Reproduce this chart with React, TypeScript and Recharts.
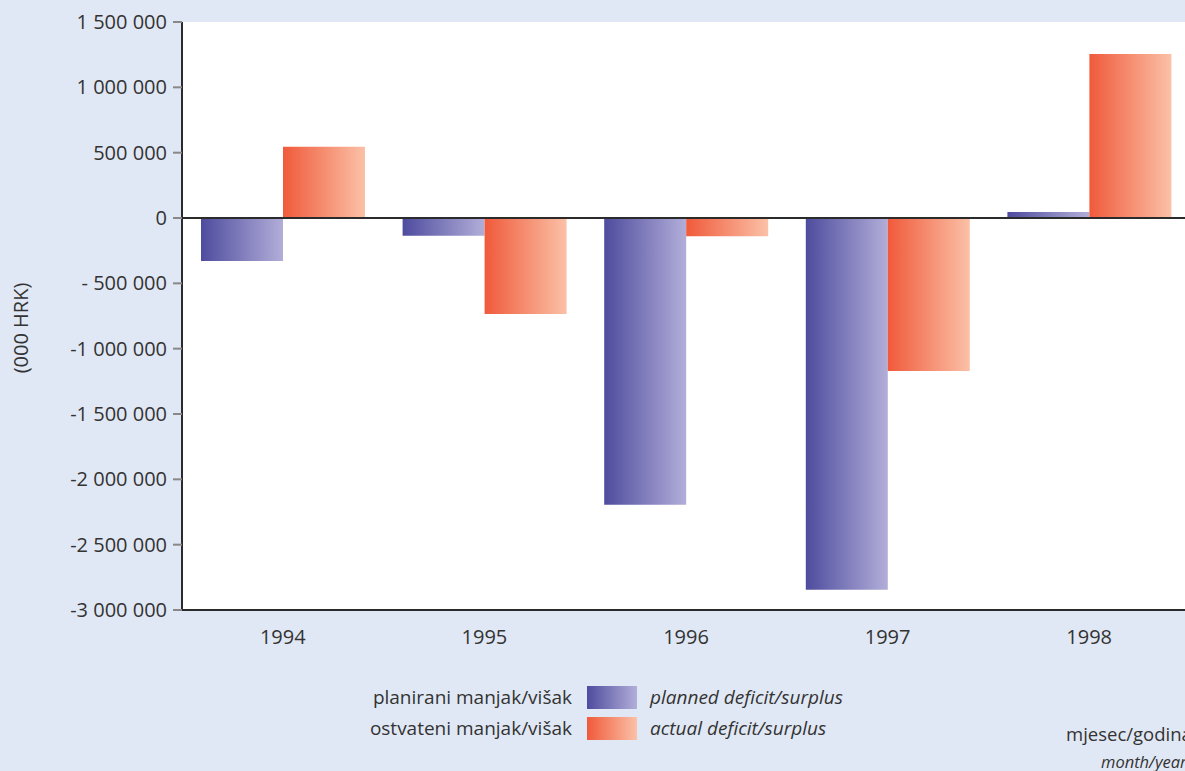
import { BarChart, Bar, XAxis, YAxis, CartesianGrid, ReferenceLine } from "recharts";

const years = ["1994", "1995", "1996", "1997", "1998"];
const planned = [-330000, -135000, -2195000, -2845000, 45000];
const actual = [545000, -735000, -140000, -1170000, 1255000];

const yTicks = [1500000, 1000000, 500000, 0, -500000, -1000000, -1500000, -2000000, -2500000, -3000000];
const yTickLabels = [
  "1 500 000",
  "1 000 000",
  "500 000",
  "0",
  "- 500 000",
  "-1 000 000",
  "-1 500 000",
  "-2 000 000",
  "-2 500 000",
  "-3 000 000",
];

const legendItems = [
  { hr: "planirani manjak/višak", en: "planned deficit/surplus", grad: "linear-gradient(to right, #4e4c9e, #b2aed9)" },
  { hr: "ostvateni manjak/višak", en: "actual deficit/surplus", grad: "linear-gradient(to right, #f05a3b, #fbc1a7)" },
];

const data = years.map((y, i) => ({ year: y, planned: planned[i], actual: actual[i] }));

const FONT = "'Open Sans', sans-serif";
const BG = "#e1e8f5";

function YLabel({ viewBox }: any) {
  const x = viewBox.x + 20;
  const y = viewBox.y + viewBox.height / 2 + 12;
  return (
    <text x={x} y={y} transform={`rotate(-90 ${x} ${y})`} textAnchor="middle" dominantBaseline="central" fontSize={20} fill="#333" fontFamily={FONT}>
      (000 HRK)
    </text>
  );
}

export default function App() {
  return (
    <div style={{ position: "absolute", left: 0, top: 0, width: 1185, height: 771, overflow: "hidden", background: BG, fontFamily: FONT, color: "#333" }}>
      <BarChart width={1200} height={771} data={data} margin={{ top: 22, right: 10, left: 0, bottom: 131 }} barGap={0} barSize={82}>
        <defs>
          <linearGradient id="gPlanned" x1="0" y1="0" x2="1" y2="0">
            <stop offset="0%" stopColor="#4e4c9e" />
            <stop offset="100%" stopColor="#b2aed9" />
          </linearGradient>
          <linearGradient id="gActual" x1="0" y1="0" x2="1" y2="0">
            <stop offset="0%" stopColor="#f05a3b" />
            <stop offset="100%" stopColor="#fbc1a7" />
          </linearGradient>
        </defs>
        <CartesianGrid fill="#ffffff" horizontal={false} vertical={false} />
        <XAxis
          dataKey="year"
          tickLine={false}
          axisLine={{ stroke: "#2b2b2b", strokeWidth: 2 }}
          tick={{ fontSize: 20, fill: "#333", fontFamily: FONT }}
          height={30}
          tickMargin={14}
        />
        <YAxis
          width={182}
          domain={[-3000000, 1500000]}
          ticks={yTicks}
          interval={0}
          tickFormatter={(v: number) => yTickLabels[yTicks.indexOf(v)]}
          axisLine={{ stroke: "#2b2b2b", strokeWidth: 2 }}
          tickLine={{ stroke: "#888", strokeWidth: 2 }}
          tickSize={9}
          tickMargin={6}
          tick={{ fontSize: 20, fill: "#333", fontFamily: FONT }}
          label={<YLabel />}
        />
        <ReferenceLine y={0} stroke="#2b2b2b" strokeWidth={2} />
        <Bar dataKey="planned" fill="url(#gPlanned)" isAnimationActive={false} />
        <Bar dataKey="actual" fill="url(#gActual)" isAnimationActive={false} />
      </BarChart>

      {legendItems.map((it, i) => (
        <div key={it.hr} style={{ position: "absolute", top: 686 + i * 31, left: 0, height: 23, width: 1185, fontSize: 19, lineHeight: "23px" }}>
          <span style={{ position: "absolute", right: 1185 - 572, whiteSpace: "nowrap" }}>{it.hr}</span>
          <span style={{ position: "absolute", left: 587, top: 0, width: 50, height: 23, background: it.grad }} />
          <span style={{ position: "absolute", left: 650, fontStyle: "italic", whiteSpace: "nowrap" }}>{it.en}</span>
        </div>
      ))}

      <div style={{ position: "absolute", left: 1066, top: 721, fontSize: 18.5, whiteSpace: "nowrap" }}>mjesec/godina</div>
      <div style={{ position: "absolute", left: 1101, top: 750, fontSize: 16.5, fontStyle: "italic", whiteSpace: "nowrap" }}>month/year</div>
    </div>
  );
}
